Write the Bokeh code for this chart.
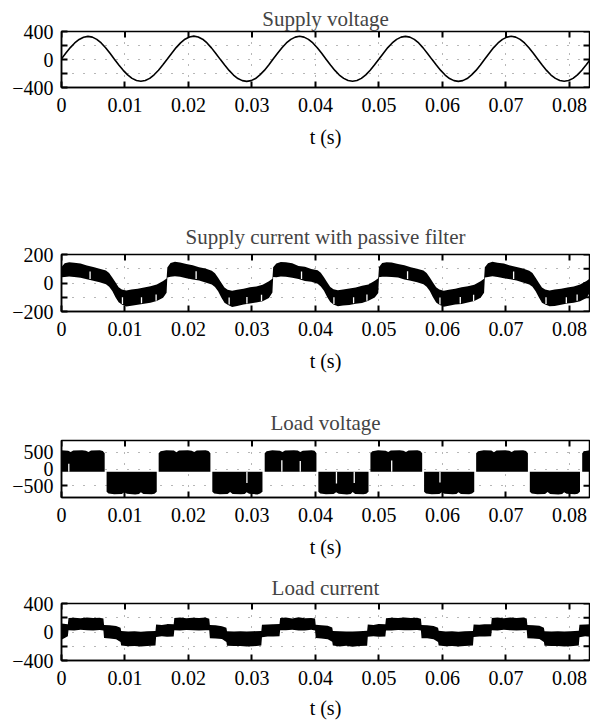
import math
from bokeh.plotting import figure
from bokeh.models import Range1d, FixedTicker
from bokeh.layouts import column
from bokeh.embed import file_html
from bokeh.resources import INLINE

FONT = "Liberation Serif"
PERIOD_MS = 1000.0 / 60.0

# ---------------- data ----------------
X_TICKS = [0, 0.01, 0.02, 0.03, 0.04, 0.05, 0.06, 0.07, 0.08]
X_TICK_LABELS = ["0", "0.01", "0.02", "0.03", "0.04", "0.05", "0.06", "0.07", "0.08"]
TITLES = ["Supply voltage", "Supply current with passive filter", "Load voltage", "Load current"]
X_LABEL = "t (s)"

# Panel 1: supply voltage, sampled every 1/24 of a 60 Hz cycle
SV_STEP_MS = PERIOD_MS / 24
SUPPLY_V = [
    10, 92, 170, 236, 286, 318, 330, 320, 288, 236, 168, 88, 4, -78, -155, -220, -270, -300, -310, -300, -270, -218, -153, -76,
    6, 90, 170, 238, 290, 322, 334, 322, 290, 236, 166, 86, 2, -80, -156, -222, -272, -302, -312, -302, -272, -220, -156, -78,
    8, 90, 168, 236, 288, 320, 332, 320, 288, 236, 168, 88, 4, -80, -156, -222, -270, -300, -310, -300, -270, -220, -154, -76,
    6, 90, 170, 236, 288, 320, 330, 320, 288, 236, 166, 86, 2, -80, -156, -222, -272, -302, -312, -302, -272, -220, -156, -78,
    8, 90, 170, 236, 288, 320, 332, 320, 288, 236, 168, 88, 4, -80, -156, -222, -270, -300, -310, -300, -270, -220, -154, -76,
    8,
]

# Panel 2: supply current band (upper / lower envelope), per cycle
SC_REL_MS = [0.0, 0.5, 1.2, 2.0, 3.0, 4.0, 5.0, 6.0, 7.0, 7.5, 8.0, 8.5, 9.0, 9.5, 10.2, 11.0, 12.0, 13.0, 14.0, 15.0, 16.0, 16.55]
SC_UPPER = [
    [112, 138, 146, 142, 136, 122, 112, 100, 88, 70, 38, 5, -30, -45, -52, -46, -40, -32, -22, -10, 14, 32],
    [108, 140, 150, 144, 134, 124, 110, 102, 86, 68, 36, 2, -32, -48, -55, -48, -40, -30, -24, -12, 12, 30],
    [110, 136, 148, 146, 138, 120, 114, 98, 90, 72, 40, 6, -28, -44, -50, -46, -38, -32, -20, -10, 16, 34],
    [112, 140, 146, 144, 134, 124, 110, 100, 88, 70, 38, 4, -30, -46, -54, -48, -40, -30, -22, -12, 12, 30],
    [110, 138, 150, 142, 136, 122, 112, 102, 86, 70, 36, 2, -32, -46, -52, -46, -40, -32, -24, -10, 14, 32],
]
SC_LOWER = [
    [40, 42, 46, 42, 36, 26, 16, 6, -8, -26, -56, -100, -135, -150, -165, -160, -152, -146, -138, -126, -104, -68],
    [38, 44, 48, 44, 34, 24, 18, 4, -10, -28, -58, -102, -138, -152, -168, -162, -150, -144, -136, -128, -106, -66],
    [42, 40, 46, 44, 36, 28, 14, 8, -6, -24, -54, -98, -134, -150, -164, -158, -154, -146, -140, -124, -102, -70],
    [40, 44, 44, 42, 38, 24, 16, 6, -8, -26, -56, -100, -136, -152, -166, -160, -150, -148, -136, -126, -104, -68],
    [38, 42, 48, 42, 34, 26, 18, 4, -10, -26, -58, -100, -138, -150, -164, -162, -152, -144, -138, -128, -106, -66],
]
SC_NOTCH_MS = [4.5, 9.6, 12.6, 14.9, 21.2, 26.4, 29.2, 31.5, 37.8, 42.9, 46.0, 48.1, 54.5, 59.6, 62.8, 64.9, 71.2, 76.3, 79.5, 81.2]
SC_NOTCH_Y0 = [28, -148, -142, -124, 28, -150, -144, -126, 28, -148, -142, -124, 28, -150, -144, -126, 28, -148, -142, -124]
SC_NOTCH_Y1 = [80, -100, -100, -80, 82, -102, -98, -82, 80, -100, -100, -80, 82, -102, -98, -82, 80, -100, -100, -80]

# Panel 3: load voltage blocks
LV_BASE = -80
LV_POS_START_MS = [-1.35, 15.3, 32.0, 48.65, 65.3, 82.0]
LV_NEG_START_MS = [7.1, 23.75, 40.45, 57.1, 73.75]
LV_POS_REL_MS = [0.0, 0.3, 1.2, 2.4, 2.8, 3.2, 4.6, 5.2, 5.6, 6.0, 7.4, 7.85, 8.15]
LV_NEG_REL_MS = [0.0, 0.3, 1.2, 2.4, 2.8, 3.2, 4.5, 5.1, 5.4, 5.8, 7.1, 7.55, 7.9]
LV_POS_TOP = [
    [470, 530, 560, 548, 505, 552, 562, 548, 505, 552, 560, 540, 470],
    [472, 532, 558, 550, 502, 550, 560, 546, 508, 550, 562, 538, 468],
    [468, 528, 562, 546, 506, 554, 560, 550, 504, 548, 558, 542, 472],
    [470, 530, 558, 548, 504, 550, 562, 546, 506, 552, 560, 540, 470],
    [472, 532, 560, 550, 502, 552, 558, 548, 508, 550, 562, 538, 468],
    [470, 530, 560, 548, 504, 550, 560, 548, 506, 550, 560, 540, 470],
]
LV_NEG_BOT = [
    [-680, -730, -755, -745, -690, -740, -758, -745, -690, -742, -755, -735, -680],
    [-682, -728, -752, -748, -688, -742, -756, -742, -692, -740, -758, -732, -678],
    [-678, -732, -756, -744, -692, -738, -758, -746, -688, -744, -754, -736, -682],
    [-680, -730, -754, -746, -690, -740, -756, -744, -690, -742, -756, -734, -680],
    [-682, -728, -756, -748, -688, -742, -758, -742, -692, -740, -754, -736, -678],
]
LV_NOTCH_MS = [1.15, 29.2, 34.7, 37.6, 43.3, 46.1, 52.0, 59.6]
LV_NOTCH_Y0 = [-80, -80, -80, -80, -80, -80, -80, -80]
LV_NOTCH_Y1 = [160, -420, 260, 240, -430, -420, 250, -400]

# Panel 4: load current band, per cycle
LC_REL_MS = [0.0, 1.0, 1.1, 2.0, 3.0, 4.0, 5.0, 6.0, 6.6, 6.7, 7.6, 8.6, 9.3, 9.4, 10.5, 11.5, 12.5, 13.5, 14.8, 14.9, 15.8, 16.6]
LC_UPPER = [
    [120, 110, 195, 200, 192, 205, 196, 200, 188, 100, 95, 85, 60, 15, 8, 12, 5, 10, 15, 105, 100, 110],
    [112, 108, 198, 204, 194, 200, 198, 202, 186, 98, 96, 82, 58, 12, 6, 10, 8, 12, 14, 102, 104, 108],
    [110, 112, 196, 202, 190, 206, 194, 198, 190, 102, 94, 86, 62, 14, 10, 8, 6, 10, 16, 106, 100, 112],
    [114, 108, 194, 200, 196, 202, 198, 200, 186, 98, 96, 84, 60, 16, 6, 12, 4, 12, 14, 104, 102, 108],
    [110, 110, 198, 204, 192, 204, 196, 202, 188, 100, 94, 86, 58, 12, 8, 10, 6, 10, 16, 102, 104, 110],
]
LC_LOWER = [
    [-110, -60, 25, 22, 30, 25, 20, 28, 22, -85, -90, -100, -140, -190, -200, -195, -205, -198, -190, -70, -60, -65],
    [-66, -62, 24, 20, 28, 26, 22, 26, 24, -88, -92, -98, -142, -192, -198, -196, -202, -200, -188, -72, -62, -64],
    [-64, -60, 26, 24, 30, 22, 20, 30, 22, -84, -90, -102, -138, -188, -202, -194, -206, -196, -192, -68, -60, -66],
    [-66, -62, 22, 22, 28, 26, 24, 28, 20, -86, -88, -100, -140, -190, -200, -198, -204, -198, -190, -70, -62, -64],
    [-64, -60, 26, 20, 30, 24, 20, 26, 24, -88, -92, -98, -142, -192, -198, -196, -202, -200, -188, -72, -60, -66],
]

# y axes: labelled ticks, unlabelled (minor) ticks, labels
Y1_TICKS, Y1_MINOR, Y1_LABELS = [-400, 0, 400], [-200, 200], ["\u2212400", "0", "400"]
Y2_TICKS, Y2_MINOR, Y2_LABELS = [-200, 0, 200], [-100, 100], ["\u2212200", "0", "200"]
Y3_TICKS, Y3_MINOR, Y3_LABELS = [-500, 0, 500], [], ["\u2212500", "0", "500"]
Y4_TICKS, Y4_MINOR, Y4_LABELS = [-400, 0, 400], [-200, 200], ["\u2212400", "0", "400"]

X_END = 0.08315
W = 590


def make_panel(title, height, b_top, b_bottom, yr, yticks, yminor, ylabels,
               title_standoff, lab_standoff):
    p = figure(width=W, height=height, x_range=Range1d(0, X_END),
               y_range=Range1d(*yr), output_backend="svg", toolbar_location=None,
               min_border_left=61, min_border_right=1, min_border_top=b_top,
               min_border_bottom=b_bottom, x_axis_label=X_LABEL)
    p.title.text = title
    p.title.align = "center"
    p.title.text_font = FONT
    p.title.text_font_size = "21px"
    p.title.text_font_style = "normal"
    p.title.standoff = title_standoff
    p.outline_line_color = "black"
    p.outline_line_width = 1.5
    p.background_fill_color = "white"
    p.border_fill_color = "white"

    xt = FixedTicker(ticks=X_TICKS)
    yt = FixedTicker(ticks=yticks, minor_ticks=yminor)
    p.xaxis.ticker = xt
    p.yaxis.ticker = yt
    p.xaxis.major_label_overrides = dict(zip(X_TICKS, X_TICK_LABELS))
    p.yaxis.major_label_overrides = dict(zip(yticks, ylabels))
    for ax in p.xaxis + p.yaxis:
        ax.major_tick_in = 6
        ax.major_tick_out = 0
        ax.minor_tick_in = 6
        ax.minor_tick_out = 0
        ax.major_tick_line_width = 2
        ax.minor_tick_line_width = 2
        ax.major_tick_line_color = "black"
        ax.minor_tick_line_color = "black"
        ax.axis_line_width = 1.5
        ax.axis_line_color = "black"
        ax.major_label_text_font = FONT
        ax.major_label_text_color = "black"
        ax.major_label_text_font_size = "20px"
    p.xaxis.major_label_standoff = 10
    p.yaxis.major_label_standoff = 8
    p.xaxis.axis_label_text_font = FONT
    p.xaxis.axis_label_text_font_size = "20px"
    p.xaxis.axis_label_text_font_style = "normal"
    p.xaxis.axis_label_text_color = "black"
    p.xaxis.axis_label_standoff = lab_standoff

    # inner ticks on the top and right edges
    p.scatter(X_TICKS, [yr[1]] * len(X_TICKS), marker="dash", size=12,
              angle=math.pi / 2, line_color="black", line_width=2)
    ry = yticks + yminor
    p.scatter([X_END] * len(ry), ry, marker="dash", size=12,
              line_color="black", line_width=2)

    p.xgrid.ticker = xt
    p.ygrid.ticker = yt
    for g in (p.xgrid, p.ygrid):
        g.grid_line_color = "#6e6e6e"
        g.grid_line_dash = "1 10"
        g.grid_line_width = 1
    p.ygrid.minor_grid_line_color = "#6e6e6e"
    p.ygrid.minor_grid_line_dash = "1 10"
    p.ygrid.minor_grid_line_width = 1
    return p


# Panel 1
p1 = make_panel(TITLES[0], 215, 31, 128, (-400, 400), Y1_TICKS, Y1_MINOR, Y1_LABELS, 2, 11)
t1 = [i * SV_STEP_MS / 1000 for i in range(len(SUPPLY_V))]
p1.line(t1, SUPPLY_V, line_color="black", line_width=1.6)

# Panel 2
p2 = make_panel(TITLES[1], 180, 39, 84, (-200, 200), Y2_TICKS, Y2_MINOR, Y2_LABELS, 11, 11)
t2, up2, lo2 = [], [], []
for k in range(len(SC_UPPER)):
    for j, r in enumerate(SC_REL_MS):
        t2.append((k * PERIOD_MS + r) / 1000)
        up2.append(SC_UPPER[k][j])
        lo2.append(SC_LOWER[k][j])
p2.varea(x=t2, y1=lo2, y2=up2, fill_color="black")
ns = [v / 1000 for v in SC_NOTCH_MS]
p2.segment(x0=ns, y0=SC_NOTCH_Y0, x1=ns, y1=SC_NOTCH_Y1, line_color="white", line_width=1.3)

# Panel 3
p3 = make_panel(TITLES[2], 168, 45, 66, (-850, 850), Y3_TICKS, Y3_MINOR, Y3_LABELS, 11, 11)
t3, y3 = [], []
blocks = []
for k in range(len(LV_POS_START_MS)):
    blocks.append((LV_POS_START_MS[k], LV_POS_REL_MS, LV_POS_TOP[k]))
    if k < len(LV_NEG_START_MS):
        blocks.append((LV_NEG_START_MS[k], LV_NEG_REL_MS, LV_NEG_BOT[k]))
for start, rel, prof in blocks:
    t3.append(start / 1000)
    y3.append(LV_BASE)
    for r, v in zip(rel, prof):
        t3.append((start + r) / 1000)
        y3.append(v)
    t3.append((start + rel[-1]) / 1000)
    y3.append(LV_BASE)
p3.varea(x=t3, y1=[LV_BASE] * len(t3), y2=y3, fill_color="black")
nl = [v / 1000 for v in LV_NOTCH_MS]
p3.segment(x0=nl, y0=LV_NOTCH_Y0, x1=nl, y1=LV_NOTCH_Y1, line_color="white", line_width=1.3)

# Panel 4
p4 = make_panel(TITLES[3], 160, 40, 63, (-400, 400), Y4_TICKS, Y4_MINOR, Y4_LABELS, 7, 9)
t4, up4, lo4 = [], [], []
for k in range(len(LC_UPPER)):
    for j, r in enumerate(LC_REL_MS):
        t4.append((k * PERIOD_MS + r) / 1000)
        up4.append(LC_UPPER[k][j])
        lo4.append(LC_LOWER[k][j])
p4.varea(x=t4, y1=lo4, y2=up4, fill_color="black")

layout = column(p1, p2, p3, p4, spacing=0)
open("out.html", "w").write(file_html(layout, INLINE))
